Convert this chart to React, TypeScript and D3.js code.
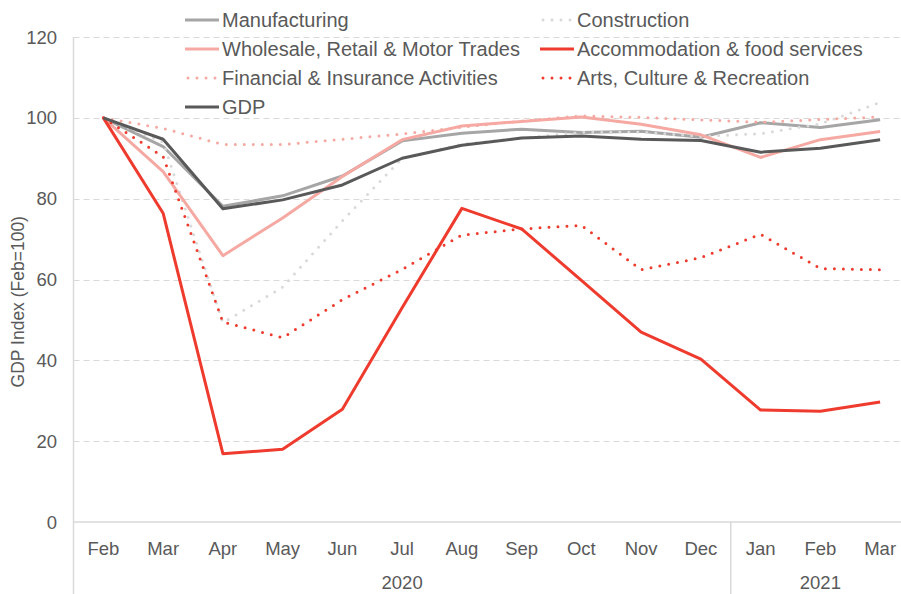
import React from "react";
import * as d3 from "d3";

const months = ["Feb", "Mar", "Apr", "May", "Jun", "Jul", "Aug", "Sep", "Oct", "Nov", "Dec", "Jan", "Feb", "Mar"];
const years = [
  { label: "2020", start: 0, end: 11 },
  { label: "2021", start: 11, end: 14 },
];
const yTicks = [0, 20, 40, 60, 80, 100, 120];

const manufacturing = [100, 92.9, 78.1, 80.7, 85.6, 94.3, 96.2, 97.2, 96.4, 96.7, 95.2, 98.8, 97.6, 99.5];
const construction = [100, 94, 49.3, 58.1, 74.5, 90, 93.5, 95, 96.4, 96.5, 95.4, 96.1, 98.5, 103.8];
const wholesale = [100, 86.7, 65.9, 75.2, 85.5, 94.6, 98.0, 99.1, 100.2, 98.4, 95.8, 90.2, 94.6, 96.6];
const accommodation = [100, 76.4, 16.9, 18.0, 27.9, 53, 77.6, 72.5, 59.8, 47.0, 40.3, 27.7, 27.4, 29.7];
const financial = [100, 97.4, 93.4, 93.4, 94.7, 96.0, 97.7, 99.2, 100.5, 100.1, 99.5, 98.9, 99.6, 100.2];
const arts = [100, 90.4, 49.5, 45.6, 55, 62.5, 71.0, 72.5, 73.4, 62.4, 65.4, 71.2, 62.7, 62.4];
const gdp = [100, 94.7, 77.5, 79.7, 83.4, 90.0, 93.2, 95.0, 95.5, 94.7, 94.4, 91.5, 92.5, 94.6];

const series = [
  { name: "Manufacturing", values: manufacturing, color: "#a6a6a6", dotted: false },
  { name: "Construction", values: construction, color: "#d9d9d9", dotted: true },
  { name: "Wholesale, Retail & Motor Trades", values: wholesale, color: "#f5a9a2", dotted: false },
  { name: "Accommodation & food services", values: accommodation, color: "#ee3b2e", dotted: false },
  { name: "Financial & Insurance Activities", values: financial, color: "#f5a9a2", dotted: true },
  { name: "Arts, Culture & Recreation", values: arts, color: "#ee3b2e", dotted: true },
  { name: "GDP", values: gdp, color: "#595959", dotted: false },
];

const W = 901;
const H = 594;
const FONT = "'Liberation Sans', Arial, sans-serif";
const TEXT = "#595959";
const AXIS = "#d9d9d9";

export default function App() {
  const x = d3.scaleBand<number>().domain(d3.range(months.length)).range([73.5, 910]).padding(0);
  const cx = (i: number) => (x(i) as number) + x.bandwidth() / 2;
  const y = d3.scaleLinear().domain([0, 120]).range([522, 37]);
  const line = d3
    .line<number>()
    .x((_, i) => cx(i))
    .y((d) => y(d));

  const legendCols = [185, 540];
  const legendRows = [20, 49, 78, 107];

  return (
    <svg
      width={W}
      height={H}
      style={{ position: "absolute", left: 0, top: 0, background: "#fff" }}
      fontFamily={FONT}
    >
      <rect width={W} height={H} fill="#fff" />
      {/* gridlines */}
      {yTicks
        .filter((t) => t > 0)
        .map((t) => (
          <line
            key={t}
            x1={73.5}
            x2={W}
            y1={Math.round(y(t)) + 0.5}
            y2={Math.round(y(t)) + 0.5}
            stroke={AXIS}
            strokeWidth={1.2}
            strokeDasharray="6 4"
          />
        ))}
      {/* axes */}
      <line x1={73.5} x2={73.5} y1={37} y2={H} stroke={AXIS} strokeWidth={1.5} />
      <line x1={73.5} x2={W} y1={y(0)} y2={y(0)} stroke={AXIS} strokeWidth={1.5} />
      {years.slice(1).map((yr) => (
        <line key={yr.label} x1={x(yr.start) as number} x2={x(yr.start) as number} y1={y(0)} y2={H} stroke={AXIS} strokeWidth={1.5} />
      ))}
      {/* y tick labels */}
      {yTicks.map((t) => (
        <text key={t} x={57} y={y(t) + 6.5} textAnchor="end" fontSize={18.5} fill={TEXT}>
          {t}
        </text>
      ))}
      <text
        transform={`translate(24, ${y(54.5)}) rotate(-90)`}
        textAnchor="middle"
        fontSize={17.5}
        fill={TEXT}
      >
        GDP Index (Feb=100)
      </text>
      {/* x labels */}
      {months.map((m, i) => (
        <text key={i} x={cx(i)} y={555} textAnchor="middle" fontSize={18.5} fill={TEXT}>
          {m}
        </text>
      ))}
      {years.map((yr) => {
        const mid = ((x(yr.start) as number) + (yr.end >= months.length ? 910 : (x(yr.end) as number))) / 2;
        return (
          <text key={yr.label} x={mid} y={589} textAnchor="middle" fontSize={18.5} fill={TEXT}>
            {yr.label}
          </text>
        );
      })}
      {/* series */}
      {series.map((s) => (
        <path
          key={s.name}
          d={line(s.values) as string}
          fill="none"
          stroke={s.color}
          strokeWidth={3}
          strokeDasharray={s.dotted ? "0 9" : undefined}
          strokeLinecap={s.dotted ? "round" : "butt"}
          strokeLinejoin="round"
        />
      ))}
      {/* legend */}
      {series.map((s, i) => {
        const lx = legendCols[i % 2];
        const ly = legendRows[Math.floor(i / 2)];
        return (
          <g key={s.name}>
            <line
              x1={lx + (s.dotted ? 3 : 0)}
              x2={lx + 34}
              y1={ly}
              y2={ly}
              stroke={s.color}
              strokeWidth={3}
              strokeDasharray={s.dotted ? "0 9" : undefined}
              strokeLinecap={s.dotted ? "round" : "butt"}
            />
            <text x={lx + 37} y={ly + 7} fontSize={20} fill={TEXT}>
              {s.name}
            </text>
          </g>
        );
      })}
    </svg>
  );
}
